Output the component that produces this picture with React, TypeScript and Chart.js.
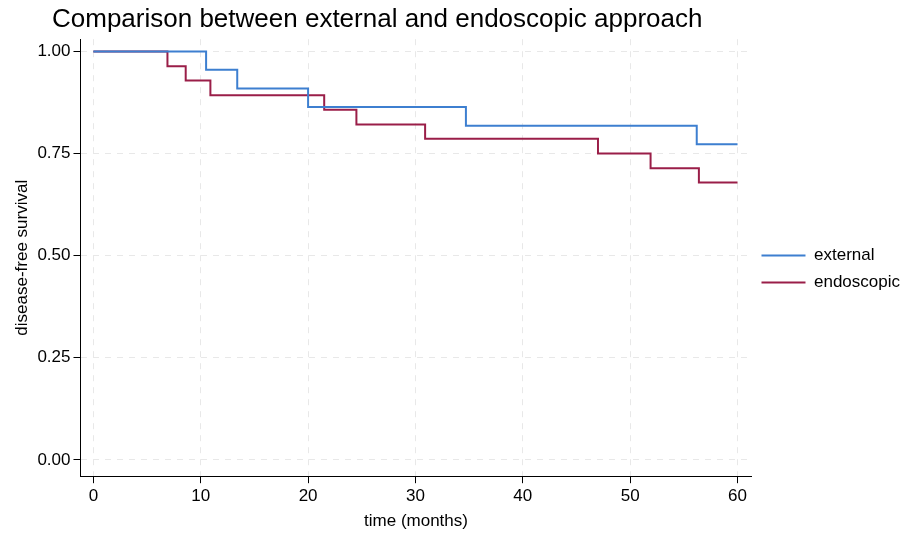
import React, { useEffect, useRef } from "react";
import { Chart, registerables } from "chart.js";
Chart.register(...registerables);

const externalTimes = [0, 10.5, 13.4, 20, 34.7, 56.2, 60];
const externalValues = [1.0, 0.955, 0.909, 0.864, 0.818, 0.773, 0.773];
const endoTimes = [0, 6.9, 8.6, 10.9, 21.5, 24.5, 30.9, 47, 51.9, 56.4, 60];
const endoValues = [1.0, 0.964, 0.929, 0.893, 0.857, 0.821, 0.786, 0.75, 0.714, 0.679, 0.679];
const yTicks = [0, 0.25, 0.5, 0.75, 1.0];

export default function App() {
  const ref = useRef<HTMLCanvasElement>(null);
  useEffect(() => {
    const font = "'Liberation Sans', Arial, sans-serif";
    const chart = new Chart(ref.current!, {
      type: "line",
      data: {
        datasets: [
          {
            label: "external",
            data: externalTimes.map((t, i) => ({ x: t, y: externalValues[i] })),
            borderColor: "#3d7fd0",
            backgroundColor: "#3d7fd0",
            borderWidth: 2,
            pointRadius: 0,
            stepped: "before",
          },
          {
            label: "endoscopic",
            data: endoTimes.map((t, i) => ({ x: t, y: endoValues[i] })),
            borderColor: "#9a1e48",
            backgroundColor: "#9a1e48",
            borderWidth: 2,
            pointRadius: 0,
            stepped: "before",
          },
        ],
      },
      options: {
        animation: false,
        responsive: false,
        layout: { padding: { top: 4, right: 4, left: 10, bottom: 2 } },
        plugins: {
          title: {
            display: true,
            text: "Comparison between external and endoscopic approach",
            align: "start",
            color: "#000",
            font: { family: font, size: 26, weight: "normal" },
            padding: { top: 0, bottom: 4 },
          },
          legend: {
            position: "right",
            labels: {
              usePointStyle: true,
              pointStyle: "line",
              pointStyleWidth: 44,
              color: "#000",
              font: { family: font, size: 17 },
              padding: 10,
            },
          },
          tooltip: { enabled: false },
        },
        scales: {
          x: {
            type: "linear",
            min: -1.2,
            max: 61.3,
            afterBuildTicks: (s: any) => {
              s.ticks = [0, 10, 20, 30, 40, 50, 60].map((v) => ({ value: v }));
            },
            ticks: { color: "#000", font: { family: font, size: 17 } },
            grid: { color: "#e8e8e8", tickColor: "#000", tickLength: 7, drawOnChartArea: true },
            border: { color: "#000", dash: [6, 6], width: 1 },
            title: { display: true, text: "time (months)", color: "#000", font: { family: font, size: 17 }, padding: 2 },
          },
          y: {
            min: -0.04,
            max: 1.03,
            afterBuildTicks: (s: any) => {
              s.ticks = yTicks.map((v) => ({ value: v }));
            },
            ticks: { color: "#000", font: { family: font, size: 17 }, callback: (v: any) => Number(v).toFixed(2) },
            grid: { color: "#e8e8e8", tickColor: "#000", tickLength: 7 },
            border: { color: "#000", dash: [6, 6], width: 1 },
            title: { display: true, text: "disease-free survival", color: "#000", font: { family: font, size: 17 }, padding: 2 },
          },
        },
      },
      plugins: [
        {
          id: "shift",
          afterLayout(c: any) {
            // nudge the title to start over the plot area as in the reference
            c.titleBlock.left = 52;
          },
        },
      ],
    });
    return () => chart.destroy();
  }, []);
  return (
    <div style={{ position: "fixed", left: 0, top: 0, width: 914, height: 536, background: "#fff" }}>
      <canvas ref={ref} width={914} height={536} />
    </div>
  );
}
